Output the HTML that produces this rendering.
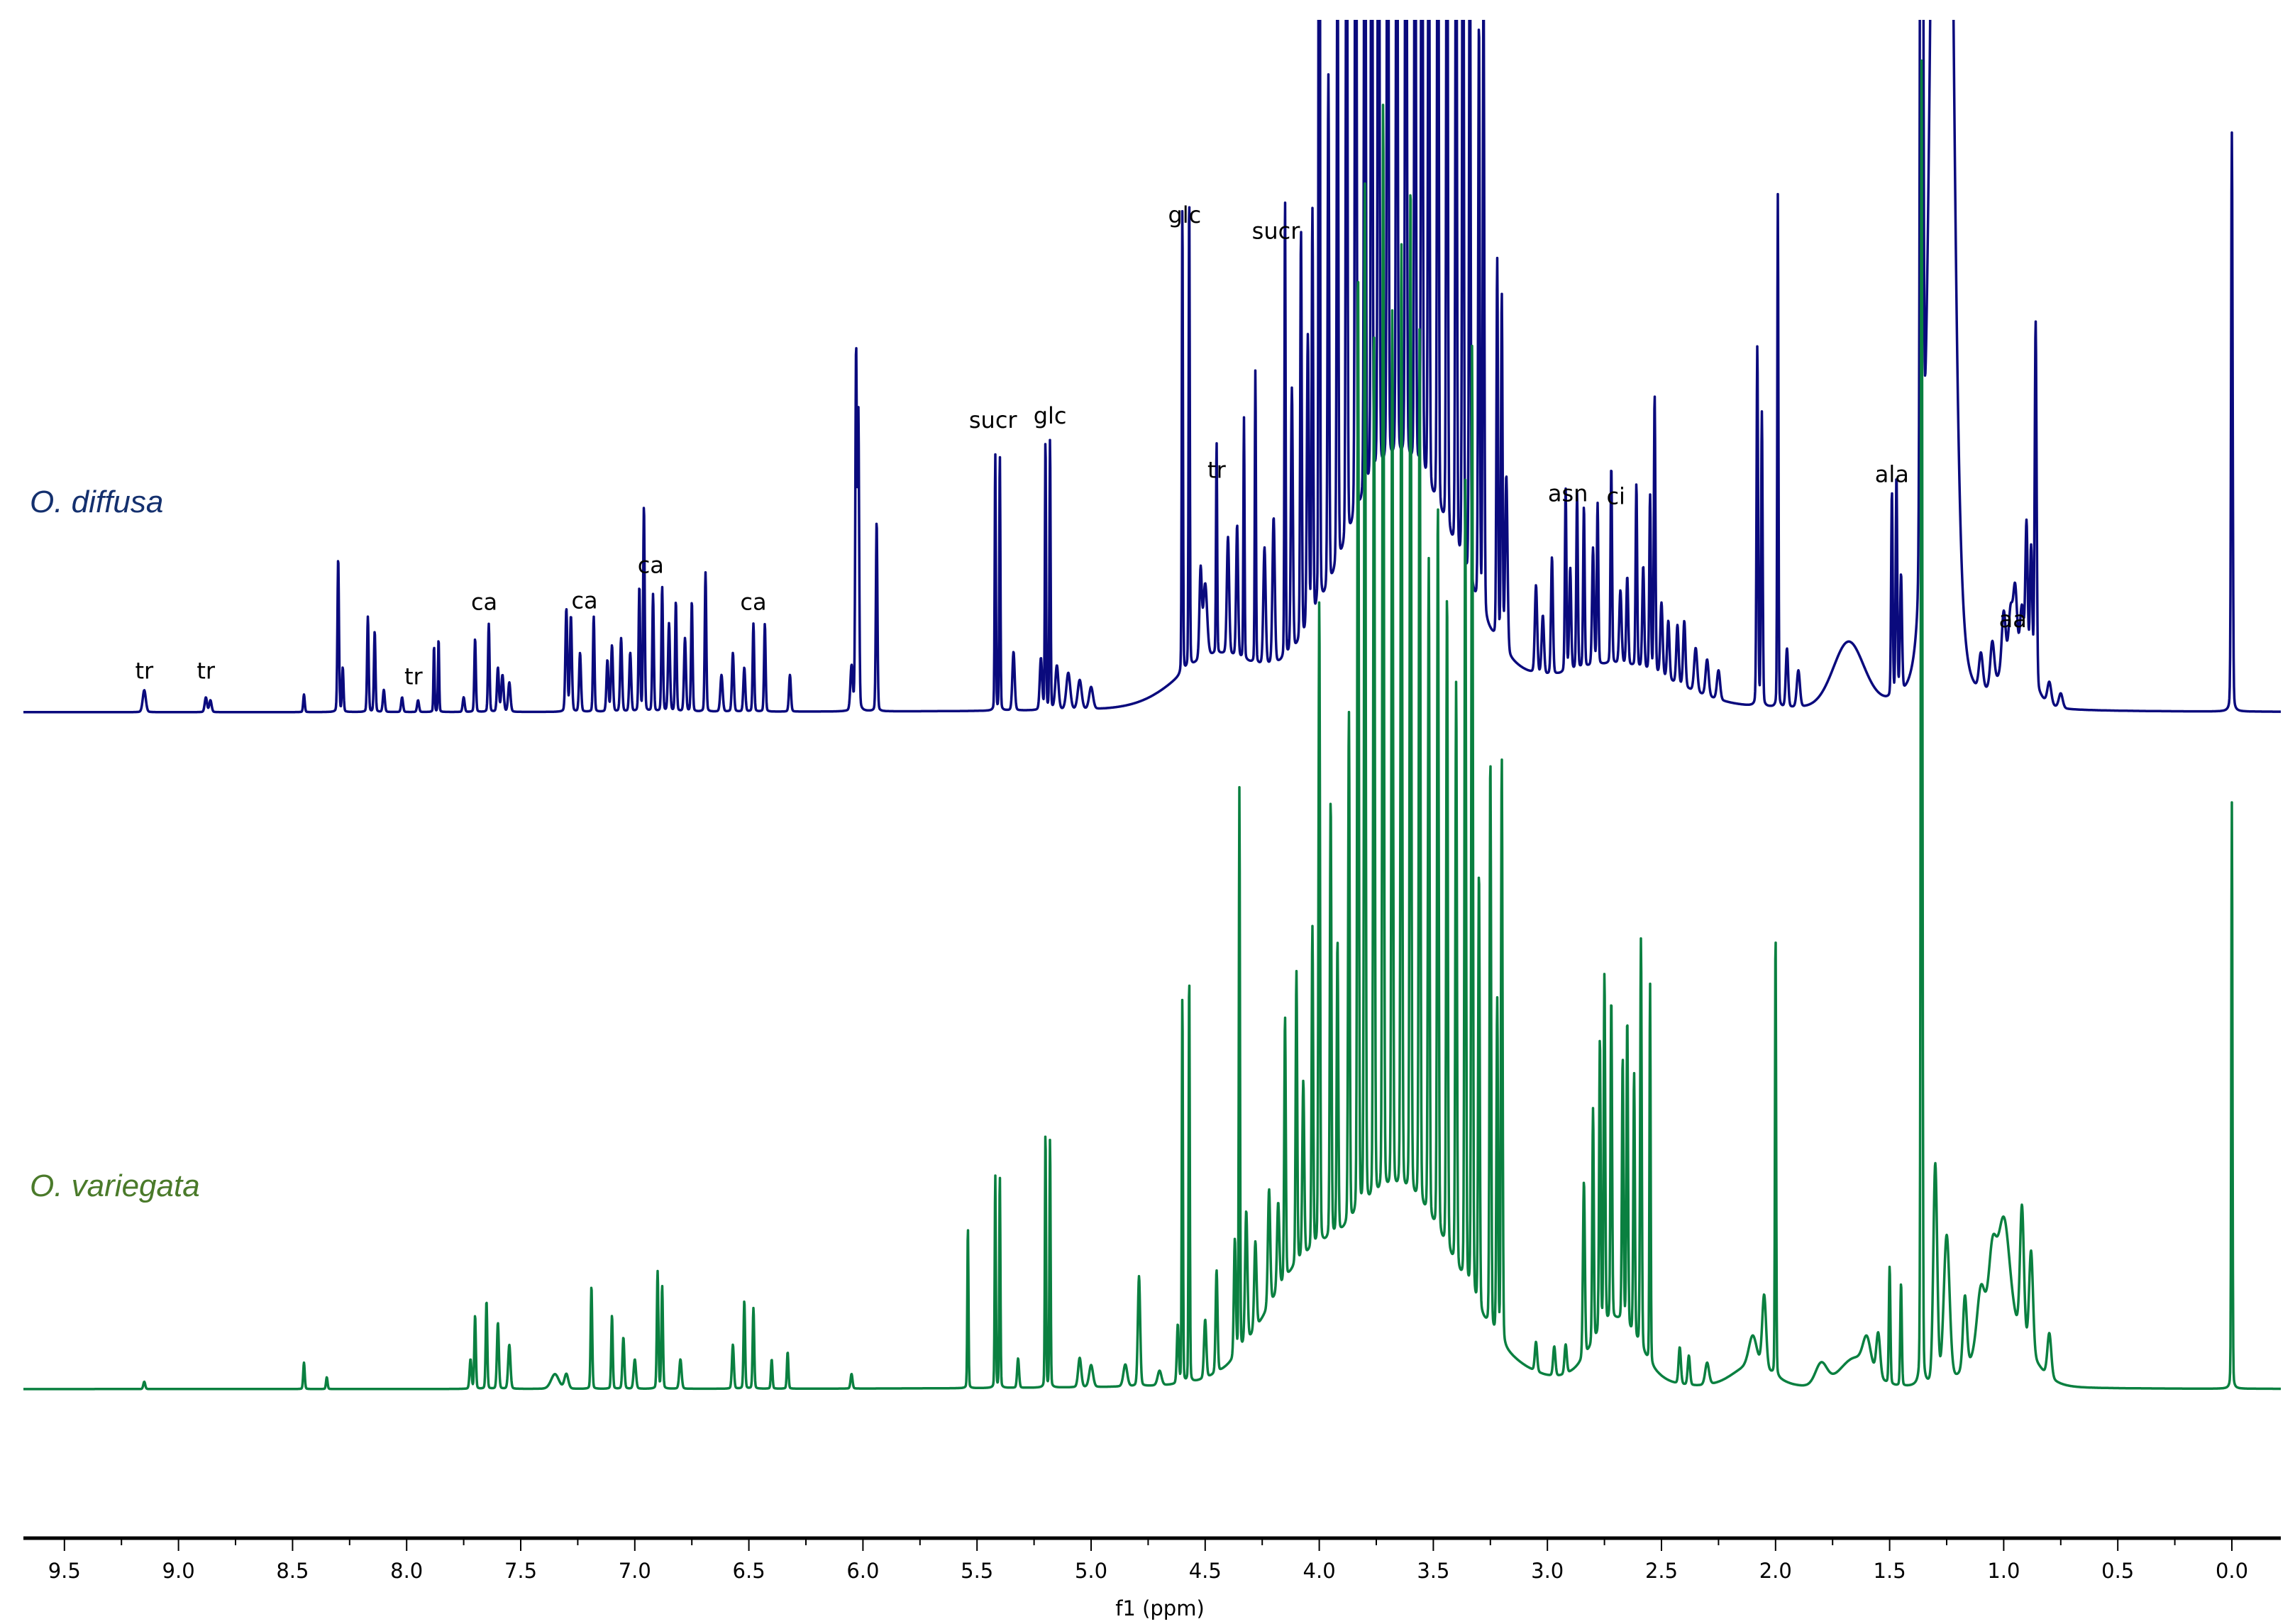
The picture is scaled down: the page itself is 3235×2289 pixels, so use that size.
<!DOCTYPE html>
<html><head><meta charset="utf-8">
<style>
html,body{margin:0;padding:0;background:#fff;}
svg{display:block;font-family:"DejaVu Sans","Liberation Sans",sans-serif;}
</style></head>
<body>
<svg id="chart" width="3235" height="2289" viewBox="0 0 3235 2289">
<defs><clipPath id="plotclip"><rect x="30" y="28" width="3190" height="2135"/></clipPath></defs>
<g id="spectra" clip-path="url(#plotclip)"></g>
<g id="annots"></g>
<text x="42" y="722" font-size="44" font-style="italic" fill="#14306e" font-family="Liberation Sans, sans-serif">O. diffusa</text>
<text x="42" y="1686" font-size="44" font-style="italic" fill="#4a7a2a" font-family="Liberation Sans, sans-serif">O. variegata</text>
<g id="axis"></g>
<text x="1635" y="2277" font-size="29" text-anchor="middle" fill="#000">f1 (ppm)</text>
</svg>
<script>
// peak data: ppm positions, heights (display px above baseline), half-widths (ppm)
const diffusaPpm = [9.15,8.88,8.86,8.45,8.30,8.28,8.17,8.14,8.10,8.02,7.95,7.88,7.86,7.75,7.70,7.64,7.60,7.58,7.55,7.30,7.28,7.24,7.18,7.12,7.10,7.06,7.02,6.98,6.96,6.92,6.88,6.85,6.82,6.78,6.75,6.69,6.62,6.57,6.52,6.48,6.43,6.32,6.05,6.03,6.02,5.94,5.42,5.40,5.34,5.22,5.20,5.18,5.15,5.10,5.05,5.00,4.60,4.57,4.52,4.50,4.45,4.40,4.36,4.33,4.28,4.24,4.20,4.15,4.12,4.08,4.05,4.03,4.00,
3.96,3.92,3.88,3.84,3.80,3.77,3.74,3.70,3.66,3.62,3.58,3.55,3.52,3.48,3.44,3.40,3.37,3.34,3.30,3.28,3.22,3.20,3.18,
3.05,3.02,2.98,2.92,2.90,2.87,2.84,2.80,2.78,2.72,2.68,2.65,2.61,2.58,2.55,2.53,2.50,2.47,2.43,2.40,2.35,2.30,2.25,2.08,2.06,1.99,1.95,1.90,1.49,1.47,1.45,1.36,1.27,1.10,1.05,1.00,0.97,0.95,0.92,0.90,0.88,0.86,0.80,0.75,0.00,
3.65,4.45,1.68,1.28,2.7,0.95];
const diffusaH = [15,10,8,12,105,30,65,55,15,10,8,45,50,10,50,60,30,25,20,70,65,40,65,35,45,50,40,85,140,80,85,60,75,50,75,95,25,40,30,60,60,25,30,245,200,130,175,175,40,35,185,185,30,25,20,15,320,325,60,50,145,80,90,165,200,80,100,315,180,280,200,280,1100,
350,450,600,700,700,600,700,650,600,700,550,650,500,600,600,550,650,500,400,440,260,240,120,
60,40,80,125,70,120,110,80,110,135,50,60,125,70,120,190,50,40,40,45,30,25,20,245,200,350,40,25,140,150,80,1200,1150,25,30,40,35,50,40,100,90,250,15,10,395,
170,35,45,150,30,30];
const diffusaW = [0.008,0.006,0.006,0.004,0.004,0.004,0.004,0.004,0.005,0.005,0.005,0.003,0.003,0.005,0.004,0.004,0.005,0.006,0.006,0.005,0.005,0.005,0.004,0.005,0.005,0.005,0.005,0.004,0.004,0.004,0.004,0.005,0.004,0.005,0.004,0.004,0.006,0.005,0.005,0.004,0.004,0.005,0.006,0.004,0.004,0.004,0.003,0.003,0.006,0.006,0.003,0.003,0.008,0.01,0.01,0.01,0.003,0.003,0.006,0.01,0.003,0.006,0.005,0.003,0.003,0.006,0.006,0.003,0.005,0.004,0.005,0.004,0.003,
0.004,0.004,0.004,0.004,0.004,0.004,0.004,0.004,0.004,0.004,0.004,0.004,0.004,0.004,0.004,0.004,0.004,0.004,0.004,0.004,0.004,0.004,0.006,
0.006,0.006,0.005,0.004,0.005,0.004,0.004,0.005,0.004,0.004,0.006,0.005,0.004,0.005,0.004,0.004,0.006,0.006,0.006,0.006,0.008,0.008,0.008,0.004,0.004,0.003,0.006,0.008,0.004,0.004,0.005,0.006,0.04,0.01,0.01,0.01,0.01,0.01,0.01,0.006,0.006,0.005,0.01,0.01,0.004,
0.3,0.2,0.08,0.06,0.3,0.08];
const variegataPpm = [9.15,8.45,8.35,7.72,7.70,7.65,7.60,7.55,7.35,7.30,7.19,7.10,7.05,7.00,6.90,6.88,6.80,6.57,6.52,6.48,6.40,6.33,6.05,5.54,5.42,5.40,5.32,5.20,5.18,5.05,5.00,4.85,4.79,4.70,4.62,4.60,4.57,4.50,4.45,4.37,4.35,4.32,4.28,4.22,4.18,4.15,4.10,4.07,4.03,4.00,3.95,3.92,
3.87,3.83,3.80,3.76,3.72,3.68,3.64,3.60,3.56,3.52,3.48,3.44,3.40,3.36,3.33,3.30,3.25,3.22,3.20,
3.05,2.97,2.92,2.84,2.80,2.77,2.75,2.72,2.67,2.65,2.62,2.59,2.55,2.42,2.38,2.30,2.10,2.05,2.00,1.80,1.60,1.55,1.50,1.45,1.36,1.30,1.25,1.17,1.10,1.05,1.00,0.92,0.88,0.80,0.00,
3.65,4.1,2.7,1.0,1.65,2.1];
const variegataH = [5,18,8,20,50,60,45,30,10,10,70,50,35,20,80,70,20,30,60,55,20,25,10,110,145,145,20,175,170,20,15,15,75,10,40,265,280,40,70,80,385,90,60,80,60,180,200,120,220,440,300,200,
350,650,700,600,750,600,650,700,600,450,500,450,400,550,650,300,390,230,400,
20,20,20,120,160,200,240,220,180,210,180,280,260,25,20,15,20,50,305,15,20,30,80,70,910,150,100,50,40,50,70,90,70,30,400,
130,55,45,45,20,15];
const variegataW = [0.005,0.004,0.004,0.005,0.004,0.004,0.005,0.006,0.02,0.01,0.004,0.004,0.005,0.006,0.004,0.004,0.006,0.005,0.004,0.004,0.004,0.004,0.005,0.003,0.003,0.003,0.005,0.003,0.003,0.008,0.01,0.01,0.006,0.01,0.005,0.003,0.003,0.006,0.005,0.005,0.003,0.006,0.006,0.006,0.006,0.004,0.004,0.005,0.004,0.004,0.004,0.004,
0.004,0.004,0.004,0.004,0.004,0.004,0.004,0.004,0.004,0.004,0.004,0.004,0.004,0.004,0.004,0.004,0.004,0.004,0.004,
0.006,0.006,0.006,0.005,0.004,0.004,0.004,0.004,0.004,0.004,0.004,0.004,0.003,0.006,0.006,0.01,0.02,0.01,0.003,0.03,0.02,0.01,0.004,0.004,0.004,0.01,0.015,0.01,0.02,0.02,0.03,0.01,0.01,0.01,0.003,
0.3,0.2,0.12,0.12,0.08,0.1];
const tickLabels = ["9.5","9.0","8.5","8.0","7.5","7.0","6.5","6.0","5.5","5.0","4.5","4.0","3.5","3.0","2.5","2.0","1.5","1.0","0.5","0.0"];
const annText = ["tr","tr","tr","ca","ca","ca","ca","sucr","glc","glc","tr","sucr","asn","ci","ala","aa"];
const annPpm = [9.15,8.88,7.97,7.66,7.22,6.93,6.48,5.43,5.18,4.59,4.45,4.19,2.91,2.70,1.49,0.96];
const annHeight = [23,23,19,70,71,95,70,194,197,334,160,323,144,142,157,58];

const NS="http://www.w3.org/2000/svg";
const X0=3146, PXPERPPM=321.6;
function xOf(ppm){return X0-PXPERPPM*ppm;}
function ppmOf(x){return (X0-x)/PXPERPPM;}
const S=2.066;
function build(ppm,h,w,base,color,name){
  let d="";
  for(let x=33;x<=3215;x+=0.5){
    const p=ppmOf(x);let y=0;
    for(let i=0;i<ppm.length;i++){const t=(p-ppm[i])/w[i];y+=h[i]*(0.85*Math.exp(-0.693*t*t)+0.15/(1+t*t));}
    const yy=base-y*S;
    d+=(x===33?"M":"L")+x.toFixed(1)+" "+yy.toFixed(1);
  }
  const path=document.createElementNS(NS,"path");
  path.setAttribute("d",d);path.setAttribute("fill","none");
  path.setAttribute("stroke",color);path.setAttribute("stroke-width","3.5");
  path.setAttribute("stroke-linejoin","round");
  
  
  document.getElementById("spectra").appendChild(path);
}
build(diffusaPpm,diffusaH,diffusaW,1004,"#0a0a7d","spectrum-o-diffusa");
build(variegataPpm,variegataH,variegataW,1958,"#0a8040","spectrum-o-variegata");

const ag=document.getElementById("annots");
for(let i=0;i<annText.length;i++){
  const t=document.createElementNS(NS,"text");
  t.setAttribute("x",xOf(annPpm[i]));t.setAttribute("y",1004-annHeight[i]*S);
  t.setAttribute("font-size","32");t.setAttribute("text-anchor","middle");
  t.textContent=annText[i];
  
  
  ag.appendChild(t);
}

const ax=document.getElementById("axis");
const line=document.createElementNS(NS,"line");
line.setAttribute("x1",33);line.setAttribute("x2",3215);line.setAttribute("y1",2168);line.setAttribute("y2",2168);
line.setAttribute("stroke","#000");line.setAttribute("stroke-width","5");


ax.appendChild(line);
for(let k=0;k<=19;k++){
  const v=k*0.5; const x=xOf(v);
  const tk=document.createElementNS(NS,"line");
  tk.setAttribute("x1",x);tk.setAttribute("x2",x);tk.setAttribute("y1",2168);tk.setAttribute("y2",2186);
  tk.setAttribute("stroke","#000");tk.setAttribute("stroke-width","2");
  
  
  ax.appendChild(tk);
  const mx=xOf(v+0.25);
  if(mx>33){
    const mt=document.createElementNS(NS,"line");
    mt.setAttribute("x1",mx);mt.setAttribute("x2",mx);mt.setAttribute("y1",2168);mt.setAttribute("y2",2178);
    mt.setAttribute("stroke","#000");mt.setAttribute("stroke-width","2");
    
    
    ax.appendChild(mt);
  }
  const lb=document.createElementNS(NS,"text");
  lb.setAttribute("x",x);lb.setAttribute("y",2224);lb.setAttribute("font-size","29");lb.setAttribute("text-anchor","middle");
  lb.textContent=tickLabels[19-k];
  
  
  ax.appendChild(lb);
}
</script>
</body></html>
